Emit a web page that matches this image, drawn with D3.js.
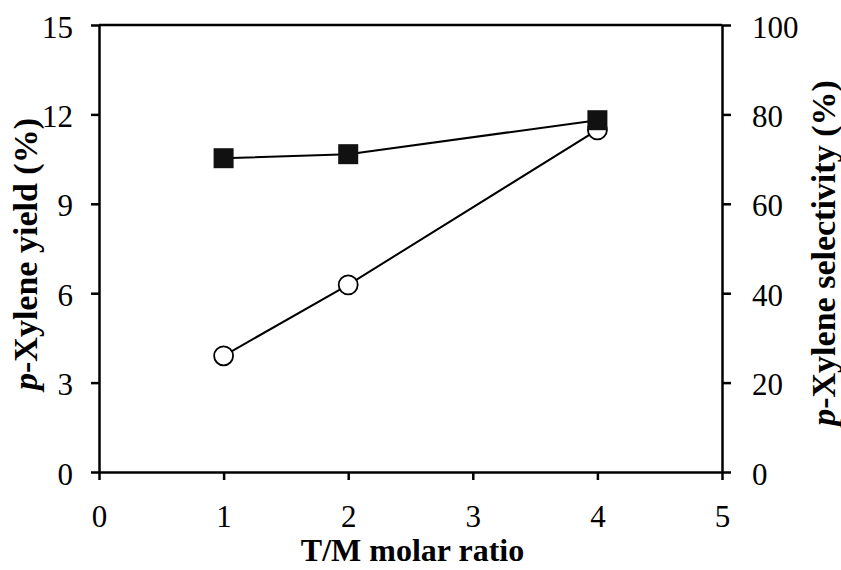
<!DOCTYPE html>
<html>
<head>
<meta charset="utf-8">
<script src="https://cdn.jsdelivr.net/npm/d3@7"></script>
<style>
  body { margin: 0; background: #fff; }
  svg { display: block; }
  text { font-family: "Liberation Serif", "Times New Roman", serif; fill: #000; }
</style>
</head>
<body>
<script>
var width = 841,
    height = 570;

// data
var ratio = [1, 2, 4];
var yieldPct = [3.9, 6.28, 11.48];        // open circles, left axis
var selectivityPct = [70.2, 71.1, 78.7];  // filled squares, right axis

var xTicks = [0, 1, 2, 3, 4, 5];
var yLeftTicks = [0, 3, 6, 9, 12, 15];
var yRightTicks = [0, 20, 40, 60, 80, 100];

// plot box (note: "top" is a reserved window prop, so use other names)
var plotL = 99, plotR = 722, plotT = 25, plotB = 472;

var xScale = d3.scaleLinear().domain([0, 5]).range([plotL, plotR]);
var yLeft = d3.scaleLinear().domain([0, 15]).range([plotB, plotT]);
var yRight = d3.scaleLinear().domain([0, 100]).range([plotB, plotT]);

var svg = d3.select("body")
  .append("svg")
  .attr("width", width)
  .attr("height", height);

// top frame line
svg.append("line")
  .attr("x1", plotL).attr("x2", plotR)
  .attr("y1", plotT).attr("y2", plotT)
  .attr("stroke", "#000")
  .attr("stroke-width", 2.5);

//axes
var gx = svg.append("g")
  .attr("transform", "translate(0," + plotB + ")")
  .call(d3.axisBottom(xScale).tickValues(xTicks).tickSize(8).tickSizeOuter(0).tickFormat(d3.format("d")));

var gl = svg.append("g")
  .attr("transform", "translate(" + plotL + ",0)")
  .call(d3.axisLeft(yLeft).tickValues(yLeftTicks).tickSize(8).tickSizeOuter(0));

var gr = svg.append("g")
  .attr("transform", "translate(" + plotR + ",0)")
  .call(d3.axisRight(yRight).tickValues(yRightTicks).tickSize(9).tickSizeOuter(0));

[gx, gl, gr].forEach(function(g) {
  g.select(".domain").attr("stroke-width", 2.5);
  g.selectAll(".tick line").attr("stroke-width", 2.5);
  g.selectAll(".tick text")
    .attr("font-size", 31)
    .attr("font-family", "Liberation Serif, serif");
});

gx.selectAll(".tick text").attr("y", 0).attr("dy", "55px");
gl.selectAll(".tick text").attr("x", -26).attr("dy", "12px");
gr.selectAll(".tick text").attr("x", 30).attr("dy", "12px");

// axis titles
svg.append("text")
  .attr("x", (plotL + plotR) / 2 + 2)
  .attr("y", 561)
  .attr("text-anchor", "middle")
  .attr("font-size", 32)
  .attr("font-weight", "bold")
  .text("T/M molar ratio");

var lt = svg.append("text")
  .attr("transform", "translate(37,254) rotate(-90)")
  .attr("text-anchor", "middle")
  .attr("font-size", 34)
  .attr("font-weight", "bold");
lt.append("tspan").attr("font-style", "italic").text("p");
lt.append("tspan").text("-Xylene yield (%)");

var rt = svg.append("text")
  .attr("transform", "translate(835,253) rotate(-90)")
  .attr("text-anchor", "middle")
  .attr("font-size", 34)
  .attr("font-weight", "bold");
rt.append("tspan").attr("font-style", "italic").text("p");
rt.append("tspan").text("-Xylene selectivity (%)");

// yield series (circles)
var yieldLine = d3.line()
  .x(function(d, i) { return xScale(ratio[i]); })
  .y(function(d) { return yLeft(d); });

svg.append("path")
  .datum(yieldPct)
  .attr("d", yieldLine)
  .attr("fill", "none")
  .attr("stroke", "#000")
  .attr("stroke-width", 2);

svg.selectAll("circle.yield")
  .data(yieldPct)
  .enter()
  .append("circle")
  .attr("class", "yield")
  .attr("cx", function(d, i) { return xScale(ratio[i]); })
  .attr("cy", function(d) { return yLeft(d); })
  .attr("r", 9.5)
  .attr("fill", "#fff")
  .attr("stroke", "#000")
  .attr("stroke-width", 1.8);

// selectivity series (squares)
var selLine = d3.line()
  .x(function(d, i) { return xScale(ratio[i]); })
  .y(function(d) { return yRight(d); });

svg.append("path")
  .datum(selectivityPct)
  .attr("d", selLine)
  .attr("fill", "none")
  .attr("stroke", "#000")
  .attr("stroke-width", 2);

var sq = 20;
svg.selectAll("rect.sel")
  .data(selectivityPct)
  .enter()
  .append("rect")
  .attr("class", "sel")
  .attr("x", function(d, i) { return xScale(ratio[i]) - sq / 2; })
  .attr("y", function(d) { return yRight(d) - sq / 2; })
  .attr("width", sq)
  .attr("height", sq)
  .attr("fill", "#111");
</script>
</body>
</html>
